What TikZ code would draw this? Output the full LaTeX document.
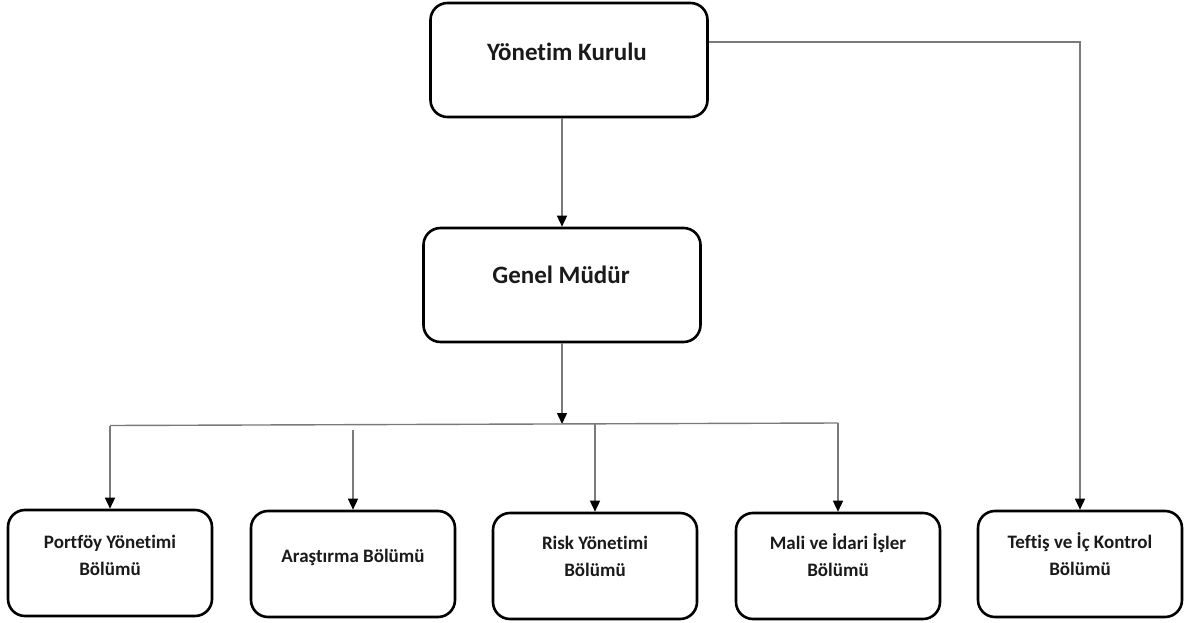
\documentclass[tikz,border=0pt]{standalone}
\usepackage{fontspec}
\setmainfont{Carlito}[Ligatures={NoCommon,NoRare}]
\usetikzlibrary{arrows.meta}
\definecolor{linegray}{HTML}{7A7A7A}
\definecolor{txt}{HTML}{1A1A1A}
\begin{document}
\begin{tikzpicture}[x=1pt,y=-1pt,
  box/.style={draw=black, line width=2.6pt, rounded corners=17pt, fill=white, inner sep=0pt},
  bigbox/.style={box, minimum width=277pt, minimum height=114pt},
  smallbox/.style={box, minimum width=204pt, minimum height=106pt},
  conn/.style={draw=linegray, line width=1.4pt},
  arr/.style={conn, -{Triangle[width=10pt,length=11pt,color=black]}},
  bigtext/.style={font=\fontsize{25}{30}\selectfont\bfseries, text=txt, anchor=base, inner sep=0pt},
  smalltext/.style={font=\fontsize{19}{27}\selectfont\bfseries, text=txt, align=center, anchor=base, inner sep=0pt}]
\useasboundingbox (0,0) rectangle (1189,623);

% boxes
\node[bigbox] (yk) at (569,60) {};
\node[bigbox] (gm) at (562,285) {};
\node[smallbox] (pb) at (110,563) {};
\node[smallbox] (ab) at (353,564) {};
\node[smallbox] (rb) at (595,566) {};
\node[smallbox] (mb) at (838,566) {};
\node[smallbox] (tb) at (1080,564) {};

% texts (anchor base = baseline of the last line)
\node[bigtext] (ykt) at (567,61) {Yönetim Kurulu};
\node[bigtext] (gmt) at (561,283) {Genel Müdür};
\node[smalltext] (pbt) at (110,575) {Portföy Yönetimi\\Bölümü};
\node[smalltext] (abt) at (353,562) {Araştırma Bölümü};
\node[smalltext] (rbt) at (595,576) {Risk Yönetimi\\Bölümü};
\node[smalltext] (mbt) at (838,576) {Mali ve İdari İşler\\Bölümü};
\node[smalltext] (tbt) at (1080,575) {Teftiş ve İç Kontrol\\Bölümü};

% connectors
\coordinate (busL) at (110,425.5);
\coordinate (busR) at (838,423);
\coordinate (busM) at (562,424);
\coordinate (busA) at (353,430);
\coordinate (busRk) at (595,424);

\draw[arr] (yk.south -| gm.north) -- (gm.north);
\draw[arr] ([yshift=18pt]yk.east) -| (tb.north);
\draw[arr] (gm.south) -- (busM);
\draw[conn] (busL) -- (busR);
\draw[arr] (busL) -- (pb.north);
\draw[arr] (busA) -- (ab.north);
\draw[arr] (busRk) -- (rb.north);
\draw[arr] (busR) -- (mb.north);
\end{tikzpicture}
\end{document}
